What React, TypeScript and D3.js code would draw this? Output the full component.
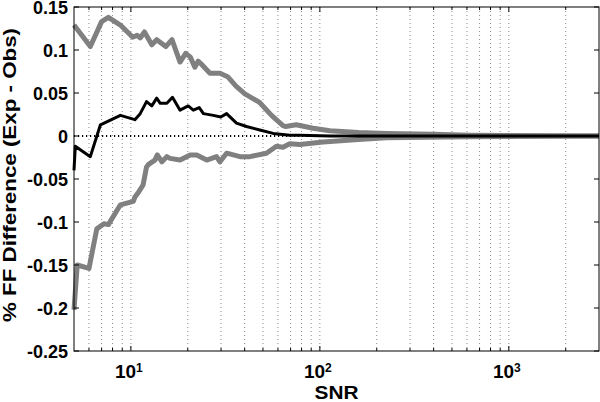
import { useEffect, useRef } from 'react';
import * as d3 from 'd3';

// upper bound (gray), mean difference (black), lower bound (gray)
const upperSnr = [5.0, 6.1, 7.0, 7.6, 8.8, 10.2, 10.8, 11.2, 11.8, 12.9, 13.7, 15.3, 16.5, 18.2, 19.5, 20.6, 21.8, 22.7, 23.5, 26.2, 29.6, 32.5, 36, 40.1, 48, 55.5, 63.8, 66, 75, 92, 113, 160, 225, 400, 617, 1000, 3000];
const upperVal = [0.129, 0.104, 0.133, 0.138, 0.129, 0.115, 0.117, 0.114, 0.121, 0.106, 0.112, 0.104, 0.112, 0.086, 0.096, 0.092, 0.080, 0.087, 0.084, 0.073, 0.073, 0.069, 0.058, 0.049, 0.039, 0.024, 0.012, 0.011, 0.013, 0.009, 0.006, 0.004, 0.003, 0.002, 0.001, 0.0005, 0];

const meanSnr = [5.0, 5.08, 6.1, 6.9, 8.8, 10.5, 11.2, 12.1, 12.9, 13.7, 14.3, 15.5, 16.6, 18.2, 20.1, 21.4, 23.0, 24.2, 27.3, 29.9, 32.1, 36.2, 40.9, 48.1, 56.6, 69.3, 78.2, 113, 3000];
const meanVal = [-0.040, -0.012, -0.024, 0.013, 0.024, 0.019, 0.026, 0.040, 0.035, 0.044, 0.038, 0.038, 0.045, 0.030, 0.035, 0.030, 0.033, 0.026, 0.024, 0.022, 0.026, 0.015, 0.011, 0.007, 0.003, 0.001, 0.001, 0, 0];

const lowerSnr = [5.0, 5.2, 6.0, 6.6, 7.2, 7.6, 8.8, 10.3, 10.5, 11.0, 11.6, 12.1, 12.4, 13.4, 13.8, 14.6, 15.5, 16.1, 18.2, 20.6, 22.3, 25.2, 28.4, 29.6, 32.1, 37.8, 42.7, 52.2, 58.9, 63.8, 69.3, 78.2, 104, 160, 225, 617, 1000, 3000];
const lowerVal = [-0.202, -0.150, -0.154, -0.108, -0.102, -0.103, -0.080, -0.076, -0.071, -0.065, -0.057, -0.036, -0.033, -0.028, -0.022, -0.030, -0.024, -0.026, -0.028, -0.022, -0.022, -0.028, -0.024, -0.030, -0.020, -0.024, -0.024, -0.020, -0.012, -0.013, -0.009, -0.010, -0.007, -0.004, -0.002, -0.001, -0.0005, 0];

const yTicks = [0.15, 0.1, 0.05, 0, -0.05, -0.1, -0.15, -0.2, -0.25];
const xMajorTicks = [10, 100, 1000];
const xMajorExp = ['1', '2', '3'];

const FONT = '"Liberation Sans", Arial, sans-serif';

export default function App() {
  const svgRef = useRef<SVGSVGElement>(null);

  useEffect(() => {
    if (!svgRef.current) return;
    const width = 600;
    const height = 402;
    const left = 74, right = 599, top = 7, bottom = 351;

    const svg = d3.select(svgRef.current);
    svg.selectAll('*').remove();
    svg.attr('width', width).attr('height', height);

    const x = d3.scaleLog().domain([5, 3000]).range([left, right]);
    const y = d3.scaleLinear().domain([-0.25, 0.15]).range([bottom, top]);

    // log grid (minor + major), vertical only
    const gridVals = x.ticks().filter(v => v > 5 && v < 3000);
    svg.append('g')
      .selectAll('line')
      .data(gridVals)
      .enter()
      .append('line')
      .attr('x1', d => x(d)).attr('x2', d => x(d))
      .attr('y1', top).attr('y2', bottom)
      .attr('stroke', '#8a8a8a')
      .attr('stroke-width', 1)
      .attr('stroke-dasharray', '1,3');

    // zero reference line
    svg.append('line')
      .attr('x1', left).attr('x2', right)
      .attr('y1', y(0)).attr('y2', y(0))
      .attr('stroke', '#000')
      .attr('stroke-width', 2)
      .attr('stroke-dasharray', '1.2,2.8');

    const line = d3.line<[number, number]>()
      .x(d => x(d[0]))
      .y(d => y(d[1]));

    const series = [
      { xs: upperSnr, ys: upperVal, color: '#808080', w: 5 },
      { xs: lowerSnr, ys: lowerVal, color: '#808080', w: 5 },
      { xs: meanSnr, ys: meanVal, color: '#000000', w: 3 },
    ];
    series.forEach(s => {
      const pts = s.xs.map((v, i) => [v, s.ys[i]] as [number, number]);
      svg.append('path')
        .datum(pts)
        .attr('d', line)
        .attr('fill', 'none')
        .attr('stroke', s.color)
        .attr('stroke-width', s.w)
        .attr('stroke-linejoin', 'round');
    });

    // axes box
    svg.append('rect')
      .attr('x', left).attr('y', top)
      .attr('width', right - left).attr('height', bottom - top)
      .attr('fill', 'none')
      .attr('stroke', '#000')
      .attr('stroke-width', 1);

    // y ticks both sides
    const yt = svg.append('g');
    yTicks.forEach(t => {
      yt.append('line').attr('x1', left).attr('x2', left + 5)
        .attr('y1', y(t)).attr('y2', y(t)).attr('stroke', '#000');
      yt.append('line').attr('x1', right - 5).attr('x2', right)
        .attr('y1', y(t)).attr('y2', y(t)).attr('stroke', '#000');
      yt.append('text')
        .attr('x', 68).attr('y', y(t) + 1)
        .attr('text-anchor', 'end')
        .attr('dominant-baseline', 'central')
        .attr('font-family', FONT).attr('font-weight', 'bold').attr('font-size', 18)
        .text(String(t));
    });

    // x ticks top and bottom
    const xt = svg.append('g');
    gridVals.forEach(v => {
      const len = xMajorTicks.includes(v) ? 5 : 3;
      xt.append('line').attr('x1', x(v)).attr('x2', x(v))
        .attr('y1', bottom).attr('y2', bottom - len).attr('stroke', '#000');
      xt.append('line').attr('x1', x(v)).attr('x2', x(v))
        .attr('y1', top).attr('y2', top + len).attr('stroke', '#000');
    });
    xMajorTicks.forEach((v, i) => {
      const t = xt.append('text')
        .attr('x', x(v) - 2).attr('y', 378)
        .attr('text-anchor', 'middle')
        .attr('font-family', FONT).attr('font-weight', 'bold').attr('font-size', 19);
      t.append('tspan').text('10');
      t.append('tspan').attr('dy', -6).attr('font-size', 12).text(xMajorExp[i]);
    });

    // axis labels
    svg.append('text')
      .attr('x', (left + right) / 2).attr('y', 399)
      .attr('text-anchor', 'middle')
      .attr('font-family', FONT).attr('font-weight', 'bold').attr('font-size', 18)
      .attr('textLength', 44).attr('lengthAdjust', 'spacingAndGlyphs')
      .text('SNR');

    svg.append('text')
      .attr('transform', `translate(16,175) rotate(-90)`)
      .attr('text-anchor', 'middle')
      .attr('font-family', FONT).attr('font-weight', 'bold').attr('font-size', 19)
      .attr('textLength', 294).attr('lengthAdjust', 'spacingAndGlyphs')
      .text('% FF Difference (Exp - Obs)');
  }, []);

  return <svg ref={svgRef} style={{ position: 'absolute', left: 0, top: 0, background: '#fff' }} />;
}
